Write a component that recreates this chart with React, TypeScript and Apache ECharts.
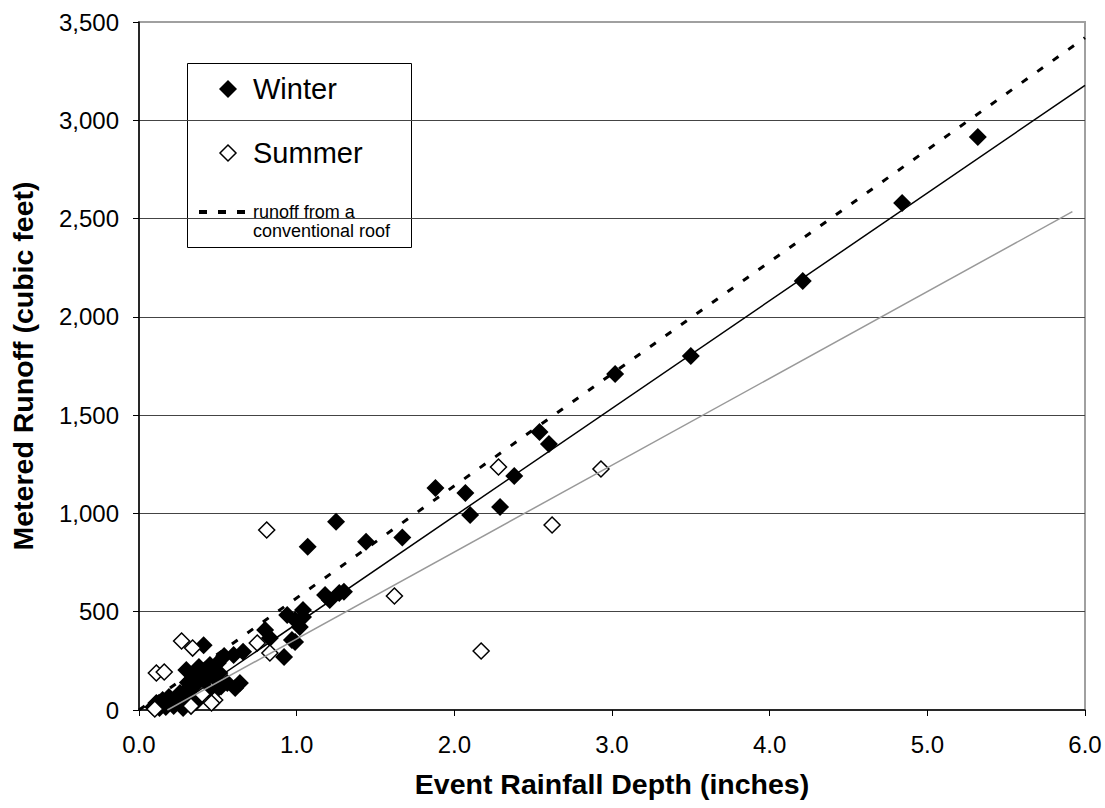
import React, { useEffect, useRef } from "react";
import * as echarts from "echarts";

// Winter events: [rainfall depth (in), metered runoff (cu ft)]
const winterPoints: number[][] = [
  [5.32, 2915], [4.84, 2579], [4.21, 2182], [3.5, 1801], [3.02, 1709],
  [2.54, 1414], [2.6, 1353], [2.38, 1190], [2.29, 1033], [2.1, 992],
  [2.07, 1104], [1.88, 1129], [1.67, 878], [1.44, 856], [1.25, 958],
  [1.07, 831], [1.3, 602], [1.27, 595], [1.21, 560], [1.18, 585],
  [1.04, 509], [1.04, 473], [1.02, 422], [0.99, 458], [0.97, 356],
  [0.94, 483], [0.92, 270], [0.99, 346], [0.8, 407], [0.83, 366],
  [0.66, 296], [0.54, 275], [0.41, 330], [0.6, 280],
  [0.09, 15], [0.11, 36], [0.13, 10], [0.15, 51], [0.17, 15], [0.19, 66],
  [0.23, 36], [0.26, 86], [0.28, 10], [0.3, 102], [0.32, 36], [0.34, 117],
  [0.36, 178], [0.33, 153], [0.38, 66], [0.38, 137], [0.42, 153], [0.44, 188],
  [0.45, 92], [0.48, 163], [0.49, 102], [0.51, 188], [0.56, 137], [0.61, 112],
  [0.64, 137], [0.3, 203], [0.38, 219], [0.45, 229], [0.5, 239],
  [0.22, 20], [0.25, 50], [0.4, 120], [0.35, 90], [0.2, 45], [0.27, 60],
  [0.31, 140], [0.36, 40], [0.43, 200], [0.47, 210], [0.52, 120],
];

// Summer events
const summerPoints: number[][] = [
  [0.27, 351], [0.34, 315], [0.11, 188], [0.16, 193], [0.48, 51],
  [0.33, 20], [0.46, 36], [0.75, 341], [0.83, 290], [0.81, 916],
  [1.62, 580], [2.17, 300], [2.28, 1236], [2.62, 941], [2.93, 1226],
  [0.1, 5], [0.4, 80],
];

// Line endpoints
const conventionalRoof: number[][] = [[0, 0], [6, 3420]];
const winterFit: number[][] = [[0.2, 0], [6, 3178]];
const summerFit: number[][] = [[0.18, 0], [5.92, 2535]];

const xTicks = { min: 0, max: 6, interval: 1 };
const yTicks = { min: 0, max: 3500, interval: 500 };

const FONT = "'Liberation Sans', Arial, sans-serif";

export default function App() {
  const ref = useRef<HTMLDivElement>(null);
  useEffect(() => {
    document.body.style.margin = "0";
    if (!ref.current) return;
    const chart = echarts.init(ref.current, undefined, { renderer: "svg" });
    const diamond = (cx: number, cy: number, r: number) => [
      [cx, cy - r], [cx + r, cy], [cx, cy + r], [cx - r, cy],
    ];
    chart.setOption({
      animation: false,
      backgroundColor: "#ffffff",
      textStyle: { fontFamily: FONT },
      grid: {
        left: 136, right: 20, top: 22, bottom: 98,
        show: true, borderColor: "#a0a0a0", borderWidth: 2,
      },
      xAxis: {
        type: "value",
        min: xTicks.min, max: xTicks.max, interval: xTicks.interval,
        name: "Event Rainfall Depth (inches)",
        nameLocation: "middle",
        nameGap: 59,
        nameTextStyle: { fontFamily: FONT, fontSize: 28.5, fontWeight: "bold", color: "#000" },
        axisLine: { show: true, onZero: false, lineStyle: { color: "#000", width: 1.5 } },
        axisTick: { show: true, inside: false, length: 6, lineStyle: { color: "#000", width: 1 } },
        axisLabel: {
          fontFamily: FONT, fontSize: 24, color: "#000", margin: 22,
          formatter: (v: number) => v.toFixed(1),
        },
        splitLine: { show: false },
      },
      yAxis: {
        type: "value",
        min: yTicks.min, max: yTicks.max, interval: yTicks.interval,
        name: "Metered Runoff (cubic feet)",
        nameLocation: "middle",
        nameGap: 102,
        nameRotate: 90,
        nameTextStyle: { fontFamily: FONT, fontSize: 28.5, fontWeight: "bold", color: "#000" },
        axisLine: { show: true, onZero: false, lineStyle: { color: "#000", width: 1.5 } },
        axisTick: { show: true, inside: false, length: 6, lineStyle: { color: "#000", width: 1 } },
        axisLabel: {
          fontFamily: FONT, fontSize: 24, color: "#000", margin: 20,
          formatter: (v: number) => v.toLocaleString("en-US"),
        },
        splitLine: {
          show: true, showMinLine: false, showMaxLine: false,
          lineStyle: { color: "#444", width: 1 },
        },
      },
      series: [
        {
          name: "Winter", type: "scatter", data: winterPoints,
          symbol: "diamond", symbolSize: [18, 18],
          itemStyle: { color: "#000", borderColor: "#000", borderWidth: 0, opacity: 1 },
          z: 2,
        },
        {
          name: "Summer", type: "scatter", data: summerPoints,
          symbol: "diamond", symbolSize: [16, 16],
          itemStyle: { color: "#fff", borderColor: "#000", borderWidth: 1.5, opacity: 1 },
          z: 3,
        },
        {
          name: "runoff from a conventional roof", type: "line", data: conventionalRoof,
          symbol: "none", silent: true,
          lineStyle: { color: "#000", width: 3, type: [7, 12] },
          z: 4,
        },
        {
          name: "Winter fit", type: "line", data: winterFit,
          symbol: "none", silent: true,
          lineStyle: { color: "#000", width: 1.5 },
          z: 4,
        },
        {
          name: "Summer fit", type: "line", data: summerFit,
          symbol: "none", silent: true,
          lineStyle: { color: "#999", width: 1.5 },
          z: 4,
        },
      ],
      graphic: [
        {
          type: "group",
          z: 100,
          children: [
            {
              type: "rect",
              shape: { x: 187.5, y: 63.5, width: 224, height: 184 },
              style: { fill: "#fff", stroke: "#000", lineWidth: 1 },
            },
            {
              type: "polygon",
              shape: { points: diamond(228, 89, 9) },
              style: { fill: "#000" },
            },
            {
              type: "text", x: 253, y: 89,
              style: { text: "Winter", font: `29px ${FONT}`, fill: "#000", verticalAlign: "middle" },
            },
            {
              type: "polygon",
              shape: { points: diamond(228, 153, 8) },
              style: { fill: "#fff", stroke: "#000", lineWidth: 1.5 },
            },
            {
              type: "text", x: 253, y: 153,
              style: { text: "Summer", font: `29px ${FONT}`, fill: "#000", verticalAlign: "middle" },
            },
            {
              type: "line",
              shape: { x1: 199, y1: 212, x2: 246, y2: 212 },
              style: { stroke: "#000", lineWidth: 4, lineDash: [8, 11] },
            },
            {
              type: "text", x: 253, y: 212,
              style: { text: "runoff from a", font: `18px ${FONT}`, fill: "#000", verticalAlign: "middle" },
            },
            {
              type: "text", x: 253, y: 231,
              style: { text: "conventional roof", font: `18px ${FONT}`, fill: "#000", verticalAlign: "middle" },
            },
          ],
        },
      ],
    });
    return () => chart.dispose();
  }, []);
  return <div ref={ref} style={{ width: 1105, height: 808 }} />;
}
